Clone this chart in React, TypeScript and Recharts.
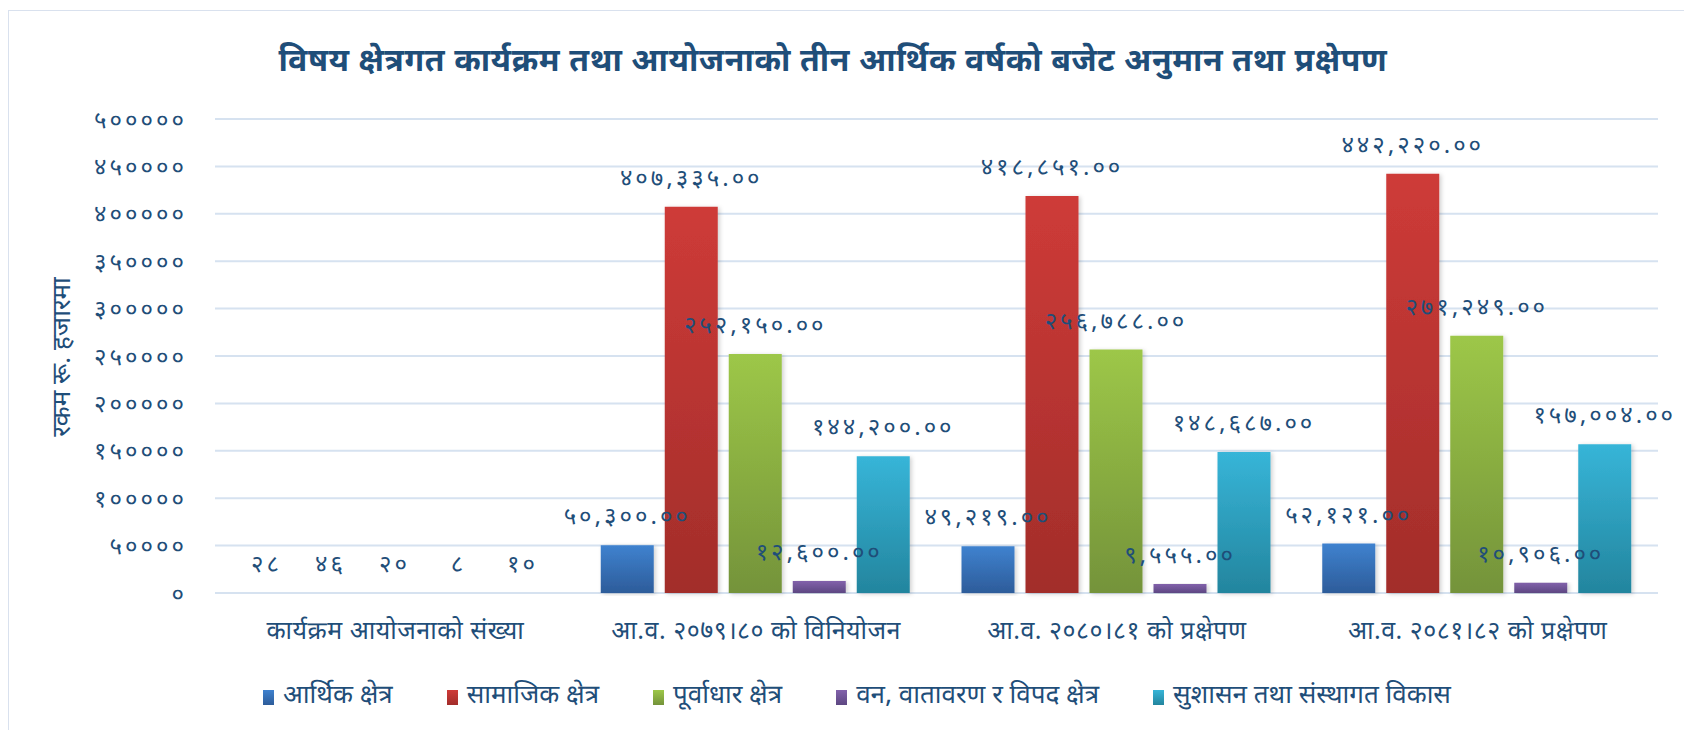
import React from "react";
import { BarChart, Bar, XAxis, YAxis, CartesianGrid, LabelList } from "recharts";

const categories = [
  "कार्यक्रम आयोजनाको संख्या",
  "आ.व. २०७९।८० को विनियोजन",
  "आ.व. २०८०।८१ को प्रक्षेपण",
  "आ.व. २०८१।८२ को प्रक्षेपण",
];
const seriesNames = [
  "आर्थिक क्षेत्र",
  "सामाजिक क्षेत्र",
  "पूर्वाधार क्षेत्र",
  "वन, वातावरण र विपद क्षेत्र",
  "सुशासन तथा संस्थागत विकास",
];
const economic = [28, 50300, 49219, 52121];
const social = [46, 407335, 418851, 442220];
const infrastructure = [20, 252150, 256788, 271249];
const forestEnv = [8, 12600, 9555, 10906];
const governance = [10, 144200, 148687, 157004];
const yTicks = [0, 50000, 100000, 150000, 200000, 250000, 300000, 350000, 400000, 450000, 500000];

const seriesValues = [economic, social, infrastructure, forestEnv, governance];
const keys = ["s0", "s1", "s2", "s3", "s4"];
const gradients = [
  ["#3F82CF", "#2D5C9A"],
  ["#CE3B38", "#A22D2A"],
  ["#9DC748", "#74933A"],
  ["#8262AB", "#5D4782"],
  ["#37B5D8", "#23859E"],
];

const data = categories.map((c, i) => {
  const row: any = { name: c };
  seriesValues.forEach((arr, j) => (row[keys[j]] = arr[i]));
  return row;
});

const devDigits = "०१२३४५६७८९";
const toDev = (s: string) => s.replace(/[0-9]/g, (d) => devDigits[Number(d)]);
const fmtLabel = (v: any) => {
  const n = Number(v);
  if (n < 1000) return toDev(String(n));
  return toDev(n.toLocaleString("en-US", { minimumFractionDigits: 2, maximumFractionDigits: 2 }));
};

const FONT = "'Noto Sans Devanagari', 'Noto Sans', sans-serif";
const TEXT = "#1F4E79";

export default function App() {
  return (
    <div style={{ position: "absolute", left: 0, top: 0, width: 1684, height: 730, background: "#fff", fontFamily: FONT }}>
      <div style={{ position: "absolute", left: 8, top: 10, width: 1700, height: 740, border: "1.5px solid #D9E1EE" }} />
      <div
        style={{
          position: "absolute",
          left: 0,
          width: 1666,
          top: 42,
          textAlign: "center",
          fontSize: 32,
          letterSpacing: 0.6,
          fontWeight: 700,
          color: TEXT,
        }}
      >
        विषय क्षेत्रगत कार्यक्रम तथा आयोजनाको तीन आर्थिक वर्षको बजेट अनुमान तथा प्रक्षेपण
      </div>
      <div
        style={{
          position: "absolute",
          left: 64,
          top: 357,
          transform: "translate(-50%, -50%) rotate(-90deg)",
          whiteSpace: "nowrap",
          fontSize: 26,
          color: TEXT,
        }}
      >
        रकम रू. हजारमा
      </div>
      <div style={{ position: "absolute", left: 0, top: 0 }}>
        <BarChart
          width={1684}
          height={730}
          data={data}
          margin={{ top: 119, right: 26, bottom: 77, left: 0 }}
          barCategoryGap={25}
          barGap={11}
        >
          <defs>
            {gradients.map((g, i) => (
              <linearGradient key={i} id={`grad${i}`} x1="0" y1="0" x2="0" y2="1">
                <stop offset="0%" stopColor={g[0]} />
                <stop offset="100%" stopColor={g[1]} />
              </linearGradient>
            ))}
            <filter id="shadow" x="-20%" y="-5%" width="140%" height="110%">
              <feDropShadow dx="2" dy="1" stdDeviation="2" floodColor="#000" floodOpacity="0.18" />
            </filter>
          </defs>
          <CartesianGrid vertical={false} stroke="#D6E2F0" strokeWidth={2} />
          <XAxis
            dataKey="name"
            axisLine={false}
            tickLine={false}
            height={60}
            tickMargin={22}
            tick={{ fill: TEXT, fontSize: 25, fontFamily: FONT, letterSpacing: 0.5 }}
            interval={0}
          />
          <YAxis
            width={215}
            domain={[0, 500000]}
            ticks={yTicks}
            axisLine={false}
            tickLine={false}
            tickMargin={22}
            tickFormatter={(v) => toDev(String(v))}
            tick={{ fill: TEXT, fontSize: 24, fontFamily: FONT, letterSpacing: 3 }}
          />
          {keys.map((k, i) => (
            <Bar key={k} dataKey={k} name={seriesNames[i]} fill={`url(#grad${i})`} filter="url(#shadow)" isAnimationActive={false}>
              <LabelList
                dataKey={k}
                position="top"
                offset={21}
                formatter={fmtLabel}
                style={{ fill: TEXT, fontSize: 24, fontFamily: FONT, letterSpacing: 3 }}
              />
            </Bar>
          ))}
        </BarChart>
      </div>
      <div
        style={{
          position: "absolute",
          left: 0,
          width: 1714,
          top: 680,
          display: "flex",
          justifyContent: "center",
          gap: 54,
          fontSize: 26,
          color: TEXT,
        }}
      >
        {seriesNames.map((n, i) => (
          <div key={n} style={{ display: "flex", alignItems: "center", gap: 9 }}>
            <div
              style={{
                width: 11,
                height: 15,
                background: `linear-gradient(${gradients[i][0]}, ${gradients[i][1]})`,
              }}
            />
            <span>{n}</span>
          </div>
        ))}
      </div>
    </div>
  );
}
